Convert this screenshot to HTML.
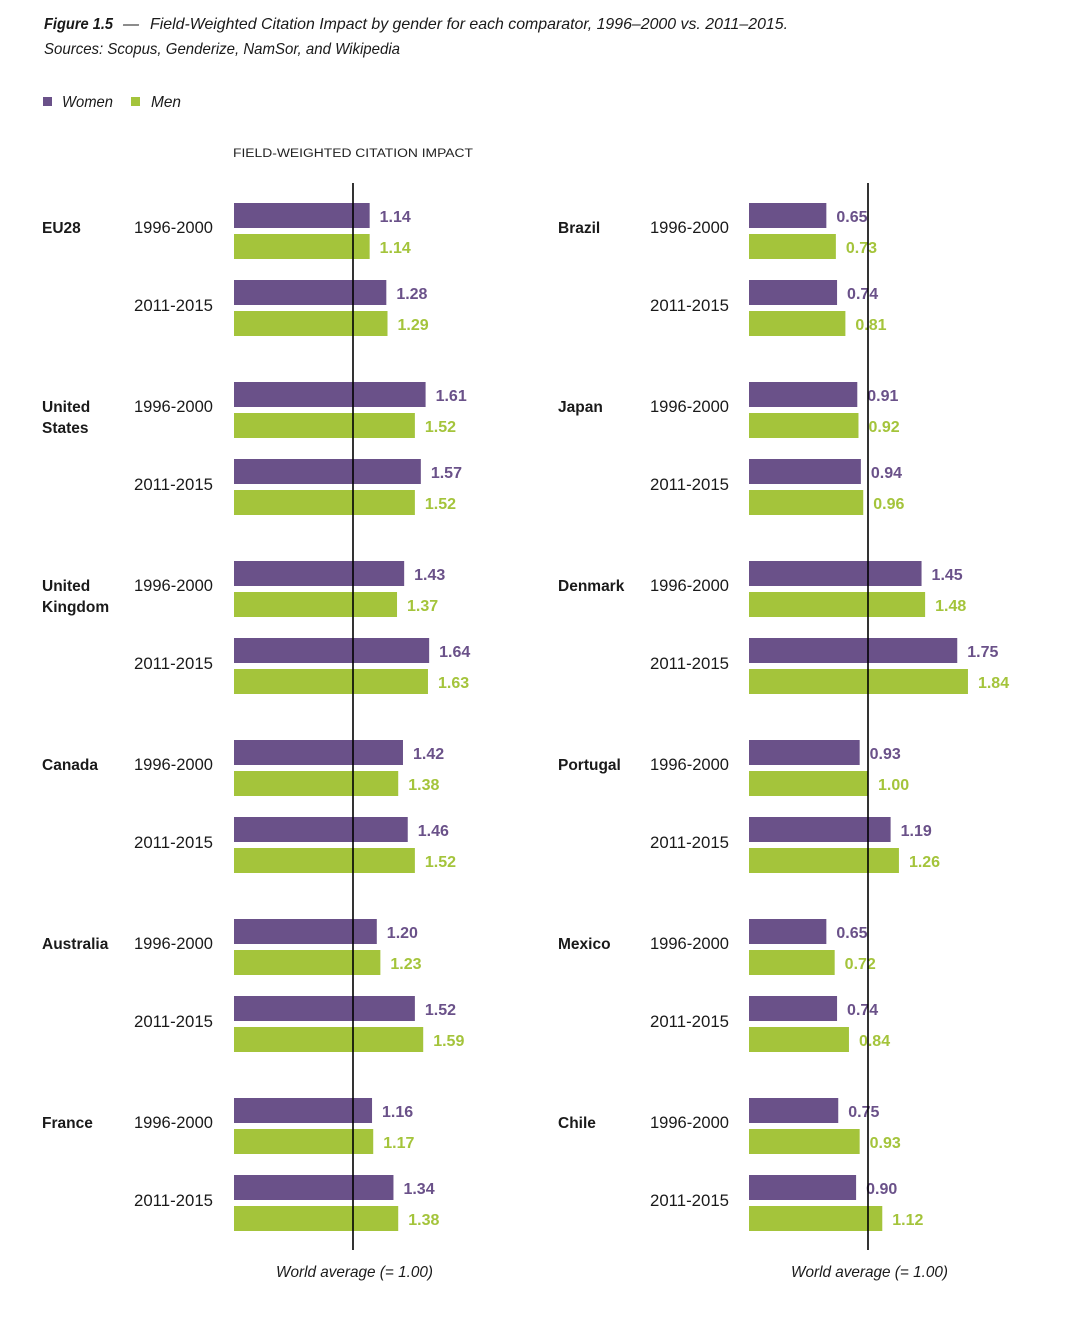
<!DOCTYPE html>
<html><head><meta charset="utf-8"><style>
html,body{margin:0;padding:0;background:#fff;}
svg{display:block;}
text{font-family:"Liberation Sans",sans-serif;}
.t{font-style:italic;font-size:16px;fill:#1a1a1a;}
.c{font-weight:bold;font-size:15.5px;fill:#1a1a1a;}
.y{font-size:16.5px;fill:#1a1a1a;}
.w{fill:#6a5189;}
.m{fill:#a4c43b;}
.lw{fill:#6a5189;font-weight:bold;font-size:16px;}
.lm{fill:#a4c43b;font-weight:bold;font-size:16px;}
</style></head><body>
<svg width="1066" height="1344" viewBox="0 0 1066 1344" xmlns="http://www.w3.org/2000/svg">
<rect width="1066" height="1344" fill="#fff"/>
<text class="t" x="44" y="29" font-weight="bold" textLength="69" lengthAdjust="spacingAndGlyphs">Figure 1.5</text>
<text class="t" x="123" y="29">—</text>
<text class="t" x="150" y="29" textLength="638" lengthAdjust="spacingAndGlyphs">Field-Weighted Citation Impact by gender for each comparator, 1996–2000 vs. 2011–2015.</text>
<text class="t" x="44" y="54" textLength="356" lengthAdjust="spacingAndGlyphs">Sources: Scopus, Genderize, NamSor, and Wikipedia</text>
<rect x="43" y="97" width="9" height="9" class="w"/>
<text class="t" x="62" y="107" font-size="15" textLength="51" lengthAdjust="spacingAndGlyphs">Women</text>
<rect x="131" y="97" width="9" height="9" class="m"/>
<text class="t" x="151" y="107" font-size="15" textLength="30" lengthAdjust="spacingAndGlyphs">Men</text>
<text x="233" y="157" font-size="11.5" fill="#222" textLength="240" lengthAdjust="spacingAndGlyphs">FIELD-WEIGHTED CITATION IMPACT</text>

<!-- LEFT PANEL -->
<g transform="translate(0,203)">
<text class="c" x="42" y="30">EU28</text>
<text class="y" x="134" y="30" textLength="79" lengthAdjust="spacingAndGlyphs">1996-2000</text>
<text class="y" x="134" y="108" textLength="79" lengthAdjust="spacingAndGlyphs">2011-2015</text>
<rect class="w" x="234" y="0" width="135.66" height="25"/><text class="lw" x="379.66" y="19">1.14</text>
<rect class="m" x="234" y="31" width="135.66" height="25"/><text class="lm" x="379.66" y="50">1.14</text>
<rect class="w" x="234" y="77" width="152.32" height="25"/><text class="lw" x="396.32" y="96">1.28</text>
<rect class="m" x="234" y="108" width="153.51" height="25"/><text class="lm" x="397.51" y="127">1.29</text>
</g>
<g transform="translate(0,382)">
<text class="c" x="42" y="30">United</text><text class="c" x="42" y="51">States</text>
<text class="y" x="134" y="30" textLength="79" lengthAdjust="spacingAndGlyphs">1996-2000</text>
<text class="y" x="134" y="108" textLength="79" lengthAdjust="spacingAndGlyphs">2011-2015</text>
<rect class="w" x="234" y="0" width="191.59" height="25"/><text class="lw" x="435.59" y="19">1.61</text>
<rect class="m" x="234" y="31" width="180.88" height="25"/><text class="lm" x="424.88" y="50">1.52</text>
<rect class="w" x="234" y="77" width="186.83" height="25"/><text class="lw" x="430.83" y="96">1.57</text>
<rect class="m" x="234" y="108" width="180.88" height="25"/><text class="lm" x="424.88" y="127">1.52</text>
</g>
<g transform="translate(0,561)">
<text class="c" x="42" y="30">United</text><text class="c" x="42" y="51">Kingdom</text>
<text class="y" x="134" y="30" textLength="79" lengthAdjust="spacingAndGlyphs">1996-2000</text>
<text class="y" x="134" y="108" textLength="79" lengthAdjust="spacingAndGlyphs">2011-2015</text>
<rect class="w" x="234" y="0" width="170.17" height="25"/><text class="lw" x="414.17" y="19">1.43</text>
<rect class="m" x="234" y="31" width="163.03" height="25"/><text class="lm" x="407.03" y="50">1.37</text>
<rect class="w" x="234" y="77" width="195.16" height="25"/><text class="lw" x="439.16" y="96">1.64</text>
<rect class="m" x="234" y="108" width="193.97" height="25"/><text class="lm" x="437.97" y="127">1.63</text>
</g>
<g transform="translate(0,740)">
<text class="c" x="42" y="30">Canada</text>
<text class="y" x="134" y="30" textLength="79" lengthAdjust="spacingAndGlyphs">1996-2000</text>
<text class="y" x="134" y="108" textLength="79" lengthAdjust="spacingAndGlyphs">2011-2015</text>
<rect class="w" x="234" y="0" width="168.98" height="25"/><text class="lw" x="412.98" y="19">1.42</text>
<rect class="m" x="234" y="31" width="164.22" height="25"/><text class="lm" x="408.22" y="50">1.38</text>
<rect class="w" x="234" y="77" width="173.74" height="25"/><text class="lw" x="417.74" y="96">1.46</text>
<rect class="m" x="234" y="108" width="180.88" height="25"/><text class="lm" x="424.88" y="127">1.52</text>
</g>
<g transform="translate(0,919)">
<text class="c" x="42" y="30">Australia</text>
<text class="y" x="134" y="30" textLength="79" lengthAdjust="spacingAndGlyphs">1996-2000</text>
<text class="y" x="134" y="108" textLength="79" lengthAdjust="spacingAndGlyphs">2011-2015</text>
<rect class="w" x="234" y="0" width="142.8" height="25"/><text class="lw" x="386.8" y="19">1.20</text>
<rect class="m" x="234" y="31" width="146.37" height="25"/><text class="lm" x="390.37" y="50">1.23</text>
<rect class="w" x="234" y="77" width="180.88" height="25"/><text class="lw" x="424.88" y="96">1.52</text>
<rect class="m" x="234" y="108" width="189.21" height="25"/><text class="lm" x="433.21" y="127">1.59</text>
</g>
<g transform="translate(0,1098)">
<text class="c" x="42" y="30">France</text>
<text class="y" x="134" y="30" textLength="79" lengthAdjust="spacingAndGlyphs">1996-2000</text>
<text class="y" x="134" y="108" textLength="79" lengthAdjust="spacingAndGlyphs">2011-2015</text>
<rect class="w" x="234" y="0" width="138.04" height="25"/><text class="lw" x="382.04" y="19">1.16</text>
<rect class="m" x="234" y="31" width="139.23" height="25"/><text class="lm" x="383.23" y="50">1.17</text>
<rect class="w" x="234" y="77" width="159.46" height="25"/><text class="lw" x="403.46" y="96">1.34</text>
<rect class="m" x="234" y="108" width="164.22" height="25"/><text class="lm" x="408.22" y="127">1.38</text>
</g>

<!-- RIGHT PANEL -->
<g transform="translate(0,203)">
<text class="c" x="558" y="30">Brazil</text>
<text class="y" x="650" y="30" textLength="79" lengthAdjust="spacingAndGlyphs">1996-2000</text>
<text class="y" x="650" y="108" textLength="79" lengthAdjust="spacingAndGlyphs">2011-2015</text>
<rect class="w" x="749" y="0" width="77.35" height="25"/><text class="lw" x="836.35" y="19">0.65</text>
<rect class="m" x="749" y="31" width="86.87" height="25"/><text class="lm" x="845.87" y="50">0.73</text>
<rect class="w" x="749" y="77" width="88.06" height="25"/><text class="lw" x="847.06" y="96">0.74</text>
<rect class="m" x="749" y="108" width="96.39" height="25"/><text class="lm" x="855.39" y="127">0.81</text>
</g>
<g transform="translate(0,382)">
<text class="c" x="558" y="30">Japan</text>
<text class="y" x="650" y="30" textLength="79" lengthAdjust="spacingAndGlyphs">1996-2000</text>
<text class="y" x="650" y="108" textLength="79" lengthAdjust="spacingAndGlyphs">2011-2015</text>
<rect class="w" x="749" y="0" width="108.29" height="25"/><text class="lw" x="867.29" y="19">0.91</text>
<rect class="m" x="749" y="31" width="109.48" height="25"/><text class="lm" x="868.48" y="50">0.92</text>
<rect class="w" x="749" y="77" width="111.86" height="25"/><text class="lw" x="870.86" y="96">0.94</text>
<rect class="m" x="749" y="108" width="114.24" height="25"/><text class="lm" x="873.24" y="127">0.96</text>
</g>
<g transform="translate(0,561)">
<text class="c" x="558" y="30">Denmark</text>
<text class="y" x="650" y="30" textLength="79" lengthAdjust="spacingAndGlyphs">1996-2000</text>
<text class="y" x="650" y="108" textLength="79" lengthAdjust="spacingAndGlyphs">2011-2015</text>
<rect class="w" x="749" y="0" width="172.55" height="25"/><text class="lw" x="931.55" y="19">1.45</text>
<rect class="m" x="749" y="31" width="176.12" height="25"/><text class="lm" x="935.12" y="50">1.48</text>
<rect class="w" x="749" y="77" width="208.25" height="25"/><text class="lw" x="967.25" y="96">1.75</text>
<rect class="m" x="749" y="108" width="218.96" height="25"/><text class="lm" x="977.96" y="127">1.84</text>
</g>
<g transform="translate(0,740)">
<text class="c" x="558" y="30">Portugal</text>
<text class="y" x="650" y="30" textLength="79" lengthAdjust="spacingAndGlyphs">1996-2000</text>
<text class="y" x="650" y="108" textLength="79" lengthAdjust="spacingAndGlyphs">2011-2015</text>
<rect class="w" x="749" y="0" width="110.67" height="25"/><text class="lw" x="869.67" y="19">0.93</text>
<rect class="m" x="749" y="31" width="119" height="25"/><text class="lm" x="878" y="50">1.00</text>
<rect class="w" x="749" y="77" width="141.61" height="25"/><text class="lw" x="900.61" y="96">1.19</text>
<rect class="m" x="749" y="108" width="149.94" height="25"/><text class="lm" x="908.94" y="127">1.26</text>
</g>
<g transform="translate(0,919)">
<text class="c" x="558" y="30">Mexico</text>
<text class="y" x="650" y="30" textLength="79" lengthAdjust="spacingAndGlyphs">1996-2000</text>
<text class="y" x="650" y="108" textLength="79" lengthAdjust="spacingAndGlyphs">2011-2015</text>
<rect class="w" x="749" y="0" width="77.35" height="25"/><text class="lw" x="836.35" y="19">0.65</text>
<rect class="m" x="749" y="31" width="85.68" height="25"/><text class="lm" x="844.68" y="50">0.72</text>
<rect class="w" x="749" y="77" width="88.06" height="25"/><text class="lw" x="847.06" y="96">0.74</text>
<rect class="m" x="749" y="108" width="99.96" height="25"/><text class="lm" x="858.96" y="127">0.84</text>
</g>
<g transform="translate(0,1098)">
<text class="c" x="558" y="30">Chile</text>
<text class="y" x="650" y="30" textLength="79" lengthAdjust="spacingAndGlyphs">1996-2000</text>
<text class="y" x="650" y="108" textLength="79" lengthAdjust="spacingAndGlyphs">2011-2015</text>
<rect class="w" x="749" y="0" width="89.25" height="25"/><text class="lw" x="848.25" y="19">0.75</text>
<rect class="m" x="749" y="31" width="110.67" height="25"/><text class="lm" x="869.67" y="50">0.93</text>
<rect class="w" x="749" y="77" width="107.1" height="25"/><text class="lw" x="866.1" y="96">0.90</text>
<rect class="m" x="749" y="108" width="133.28" height="25"/><text class="lm" x="892.28" y="127">1.12</text>
</g>

<!-- World average lines -->
<line x1="353" y1="183" x2="353" y2="1250" stroke="#000" stroke-width="1.6"/>
<line x1="868" y1="183" x2="868" y2="1250" stroke="#000" stroke-width="1.6"/>
<text class="t" x="276" y="1277" textLength="157" lengthAdjust="spacingAndGlyphs">World average (= 1.00)</text>
<text class="t" x="791" y="1277" textLength="157" lengthAdjust="spacingAndGlyphs">World average (= 1.00)</text>
</svg>
</body></html>
